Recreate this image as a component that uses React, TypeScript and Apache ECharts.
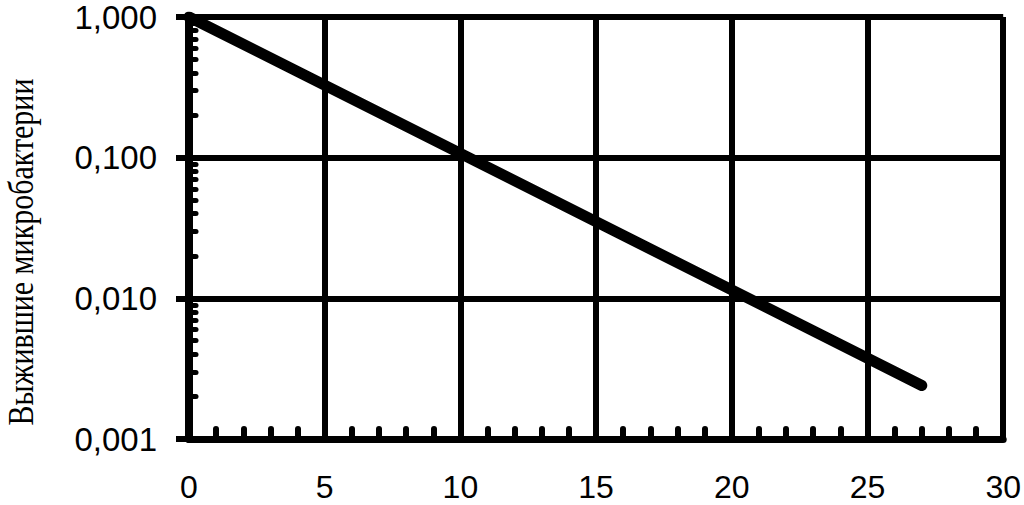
import React, { useEffect, useRef } from "react";
import * as echarts from "echarts";

const xTicks = [0, 5, 10, 15, 20, 25, 30];
const yTickLabels = ["0,001", "0,010", "0,100", "1,000"];
const survivalX = [0, 27];
const survivalY = [1, 0.0024];
const yTitle = "Выжившие микробактерии";

export default function App() {
  const ref = useRef<HTMLDivElement>(null);
  useEffect(() => {
    if (!ref.current) return;
    const chart = echarts.init(ref.current, null, { renderer: "svg" });
    const black = "#000";
    const font = "'Liberation Sans', Arial, sans-serif";
    chart.setOption({
      animation: false,
      backgroundColor: "#fff",
      grid: { left: 189, right: 19, top: 17, bottom: 66, containLabel: false },
      xAxis: {
        type: "value",
        min: xTicks[0],
        max: xTicks[xTicks.length - 1],
        interval: 5,
        axisLine: { show: true, lineStyle: { color: black, width: 7 } },
        axisTick: { show: false, inside: true },
        minorTick: { show: true, splitNumber: 5, length: 10, lineStyle: { color: black, width: 6, cap: "round" } },
        splitLine: { show: true, lineStyle: { color: black, width: 6 } },
        axisLabel: { color: black, fontSize: 32, lineHeight: 28, fontFamily: font, margin: 34 },
      },
      yAxis: [
        {
          type: "log",
          logBase: 10,
          min: 0.001,
          max: 1,
          position: "left",
          axisLine: { show: true, lineStyle: { color: black, width: 8 } },
          axisTick: { show: true, inside: false, length: 13, lineStyle: { color: black, width: 6 } },
          minorTick: { show: false },
          splitLine: { show: true, lineStyle: { color: black, width: 6 } },
          axisLabel: {
            color: black,
            fontSize: 33,
            lineHeight: 28,
            fontFamily: font,
            margin: 32,
            formatter: (v: number) => {
              const idx = Math.round(Math.log10(v)) + 3;
              return yTickLabels[idx] ?? v.toFixed(3).replace(".", ",");
            },
          },
        },
        {
          type: "log",
          logBase: 10,
          min: 0.001,
          max: 1,
          position: "left",
          axisLine: { show: false },
          axisTick: { show: false, inside: true },
          minorTick: { show: true, splitNumber: 9, length: 7, lineStyle: { color: black, width: 5, cap: "round" } },
          splitLine: { show: false },
          axisLabel: { show: false },
        },
      ],
      graphic: [
        {
          type: "text",
          x: 21,
          y: 252,
          rotation: Math.PI / 2,
          scaleY: 1.2,
          style: {
            text: yTitle,
            fill: black,
            font: "30px 'Liberation Serif', 'Times New Roman', serif",
            lineHeight: 26,
            textAlign: "center",
            textVerticalAlign: "middle",
          },
        },
      ],
      series: [
        {
          type: "line",
          yAxisIndex: 0,
          data: survivalX.map((x, i) => [x, survivalY[i]]),
          showSymbol: false,
          lineStyle: { color: black, width: 11, cap: "round" },
          z: 5,
        },
      ],
    });
    return () => chart.dispose();
  }, []);
  return <div ref={ref} style={{ position: "absolute", left: 0, top: 0, width: 1024, height: 505 }} />;
}
